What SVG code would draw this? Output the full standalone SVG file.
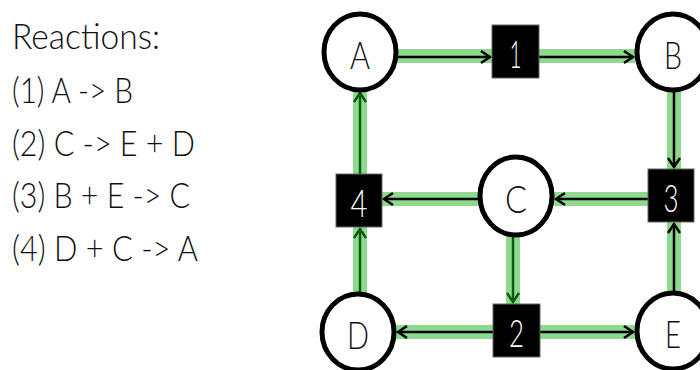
<svg xmlns="http://www.w3.org/2000/svg" width="700" height="370" viewBox="0 0 700 370">
<style>
  .lbl { font-family: Lato, "Open Sans", "DejaVu Sans", sans-serif; font-weight: 300; fill: #111; }
  .rx { font-size: 35px; }
  .node ellipse { fill: #fff; stroke: #000; stroke-width: 5; }
  .node text { font-family: Lato, "Open Sans", "DejaVu Sans", sans-serif; font-weight: 300; font-size: 38px; fill: #111; text-anchor: middle; dominant-baseline: central; }
  .rxn rect { fill: #000; stroke: #666; stroke-width: 1; }
  .rxn text { font-family: Lato, "Open Sans", "DejaVu Sans", sans-serif; font-weight: 300; font-size: 38px; fill: #fff; text-anchor: middle; dominant-baseline: central; }
  .hl { stroke: #1cb31c; stroke-opacity: 0.5; stroke-width: 14; fill: none; }
  .ar { stroke: #000; stroke-width: 2.5; fill: none; marker-end: url(#chev); }
</style>
<defs>
  <marker id="chev" markerUnits="userSpaceOnUse" markerWidth="14" markerHeight="16" viewBox="0 0 14 16" refX="11" refY="8" orient="auto">
    <path d="M2,2 L11,8 L2,14" fill="none" stroke="#000" stroke-width="2.5"/>
  </marker>
</defs>

<g id="legend">
  <text class="lbl rx" x="12" y="49" textLength="148" lengthAdjust="spacingAndGlyphs">Reactions:</text>
  <text class="lbl rx" x="12" y="103" textLength="121" lengthAdjust="spacingAndGlyphs">(1) A -&gt; B</text>
  <text class="lbl rx" x="12" y="156" textLength="183" lengthAdjust="spacingAndGlyphs">(2) C -&gt; E + D</text>
  <text class="lbl rx" x="12" y="208" textLength="178" lengthAdjust="spacingAndGlyphs">(3) B + E -&gt; C</text>
  <text class="lbl rx" x="12" y="261" textLength="186" lengthAdjust="spacingAndGlyphs">(4) D + C -&gt; A</text>
</g>

<g id="connectors">
  <path class="hl" d="M396,56 H492"/>
  <path class="hl" d="M539,56 H635"/>
  <path class="hl" d="M674,92 V169"/>
  <path class="hl" d="M649,199 H554"/>
  <path class="hl" d="M478,199 H382"/>
  <path class="hl" d="M493,332 H396"/>
  <path class="hl" d="M540,332 H635"/>
  <path class="hl" d="M674,291 V222"/>
  <path class="ar" d="M396,57 H490"/>
  <path class="ar" d="M539,57 H633"/>
  <path class="ar" d="M674,92 V167"/>
  <path class="ar" d="M649,199 H556"/>
  <path class="ar" d="M478,199 H384"/>
  <path class="ar" d="M360,174 V93"/>
  <path class="ar" d="M360,292 V229"/>
  <path class="ar" d="M513,237 V302"/>
  <path class="ar" d="M493,332 H398"/>
  <path class="ar" d="M540,332 H633"/>
  <path class="ar" d="M674,291 V224"/>
  <path class="hl" d="M360,176 V90"/>
  <path class="hl" d="M360,294 V226"/>
  <path class="hl" d="M513,236 V307"/>
</g>

<g id="node-A" class="node"><ellipse cx="360" cy="52" rx="36" ry="38"/><text x="360" y="54" textLength="20" lengthAdjust="spacingAndGlyphs">A</text></g>
<g id="node-B" class="node"><ellipse cx="673" cy="52" rx="36" ry="38"/><text x="673" y="54" textLength="18" lengthAdjust="spacingAndGlyphs">B</text></g>
<g id="node-C" class="node"><ellipse cx="516" cy="196" rx="36" ry="39"/><text x="516" y="198" textLength="22" lengthAdjust="spacingAndGlyphs">C</text></g>
<g id="node-D" class="node"><ellipse cx="358" cy="332" rx="36" ry="38"/><text x="358" y="334" textLength="22" lengthAdjust="spacingAndGlyphs">D</text></g>
<g id="node-E" class="node"><ellipse cx="673" cy="331" rx="36" ry="38"/><text x="673" y="333" textLength="16" lengthAdjust="spacingAndGlyphs">E</text></g>

<g id="rxn-1" class="rxn"><rect x="492" y="25" width="47" height="53"/><text x="515.5" y="53" textLength="12" lengthAdjust="spacingAndGlyphs">1</text></g>
<g id="rxn-2" class="rxn"><rect x="493" y="304" width="47" height="53"/><text x="516.5" y="332" textLength="15" lengthAdjust="spacingAndGlyphs">2</text></g>
<g id="rxn-3" class="rxn"><rect x="648" y="169" width="46" height="53"/><text x="671" y="197" textLength="15" lengthAdjust="spacingAndGlyphs">3</text></g>
<g id="rxn-4" class="rxn"><rect x="336" y="174" width="46" height="53"/><text x="359" y="202" textLength="17" lengthAdjust="spacingAndGlyphs">4</text></g>
</svg>
